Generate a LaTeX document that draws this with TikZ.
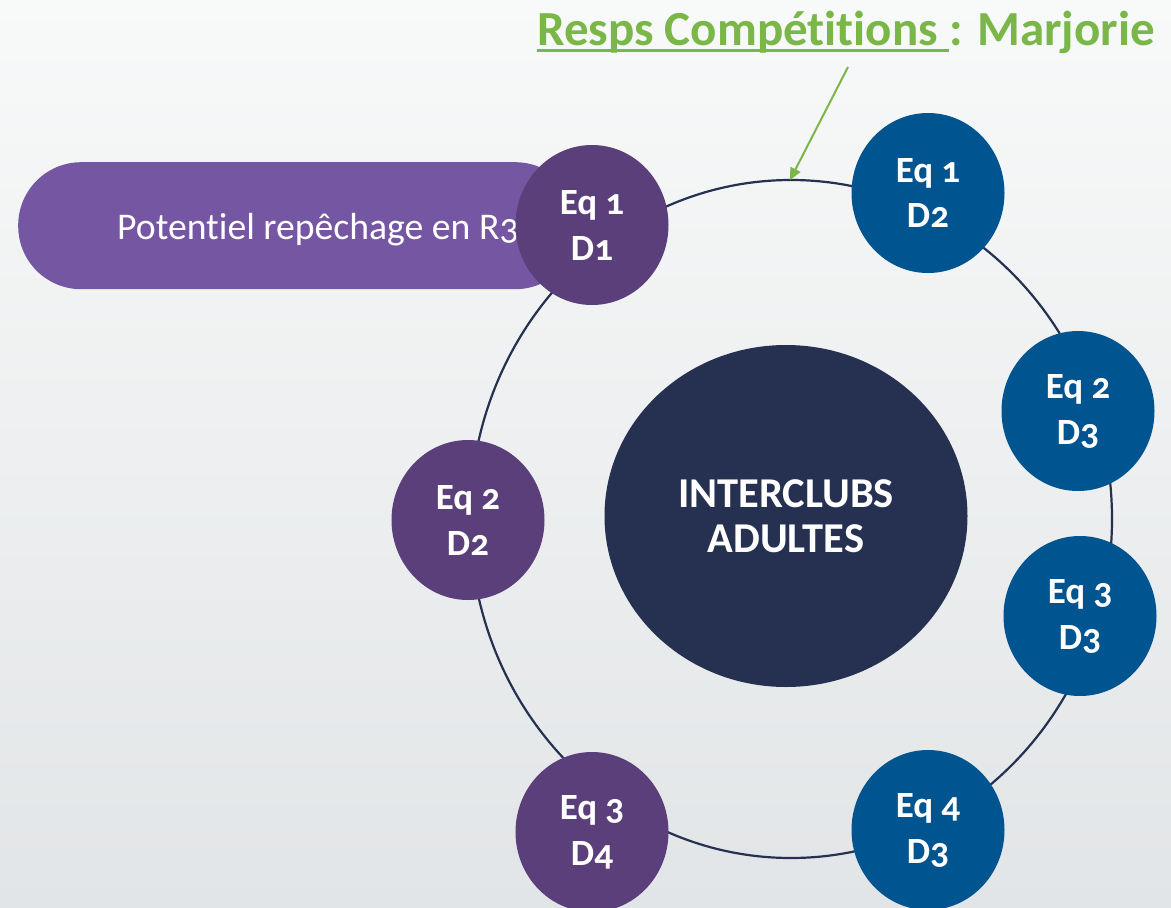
\documentclass[tikz,border=0pt]{standalone}
\usepackage{fontspec}
\setmainfont{Carlito}[Numbers=OldStyle, Ligatures=NoCommon]
\usetikzlibrary{shapes.geometric,arrows.meta}
\definecolor{pillc}{HTML}{7556A3}
\definecolor{purc}{HTML}{5A3F7B}
\definecolor{bluc}{HTML}{00548F}
\definecolor{navc}{HTML}{263152}
\definecolor{grnc}{HTML}{7AB648}
\definecolor{bgtop}{HTML}{F8F9F9}
\definecolor{bgbot}{HTML}{E2E5E7}
\tikzset{
  team/.style={ellipse, minimum width=153pt, minimum height=160pt, inner sep=0pt,
    text=white, align=center, font=\bfseries\fontsize{37}{46}\selectfont},
  purteam/.style={team, fill=purc},
  bluteam/.style={team, fill=bluc},
}
\begin{document}
\begin{tikzpicture}[x=1pt,y=-1pt]
\useasboundingbox (0,0) rectangle (1171,908);
\shade[top color=bgtop, bottom color=bgbot] (0,0) rectangle (1171,908);
% ring
\draw[navc, line width=2.2pt] (791,519) ellipse [x radius=321, y radius=339];
% pill
\node[draw=none, fill=pillc, rounded corners=63pt, minimum width=560pt, minimum height=127pt,
  anchor=north west, inner sep=0pt] (pill) at (18,162) {};
\node[anchor=base west, text=white, font=\fontsize{37.7}{40}\selectfont, inner sep=0pt] (pilltext) at (117,239) {Potentiel repêchage en R3};
% teams
\node[purteam] (e1d1) at (592,225) {Eq 1\\D1};
\node[bluteam] (e1d2) at (928,193) {Eq 1\\D2};
\node[bluteam] (e2d3) at (1078,411) {Eq 2\\D3};
\node[bluteam] (e3d3) at (1080,616) {Eq 3\\D3};
\node[bluteam] (e4d3) at (928,830) {Eq 4\\D3};
\node[purteam] (e3d4) at (592,832) {Eq 3\\D4};
\node[purteam] (e2d2) at (468,520) {Eq 2\\D2};
% center
\node[ellipse, fill=navc, minimum width=363pt, minimum height=342pt, inner sep=0pt,
  text=white, align=center, font=\bfseries\fontsize{42.5}{45}\selectfont] (center) at (786,516) {INTERCLUBS\\ADULTES};
% title
\node[anchor=base west, inner sep=0pt, text=grnc, font=\bfseries\fontsize{49}{52}\selectfont] (title) at (537,45)
  {{\setbox0\hbox{Resps Compétitions }\rlap{\rule[-7pt]{\wd0}{3pt}}\box0}: Marjorie};
\coordinate (arrstart) at (848,67);
\coordinate (arrend) at (790,180);
\draw[grnc, line width=2pt, -{Triangle[length=12pt,width=11pt]}] (arrstart) -- (arrend);
\end{tikzpicture}
\end{document}
